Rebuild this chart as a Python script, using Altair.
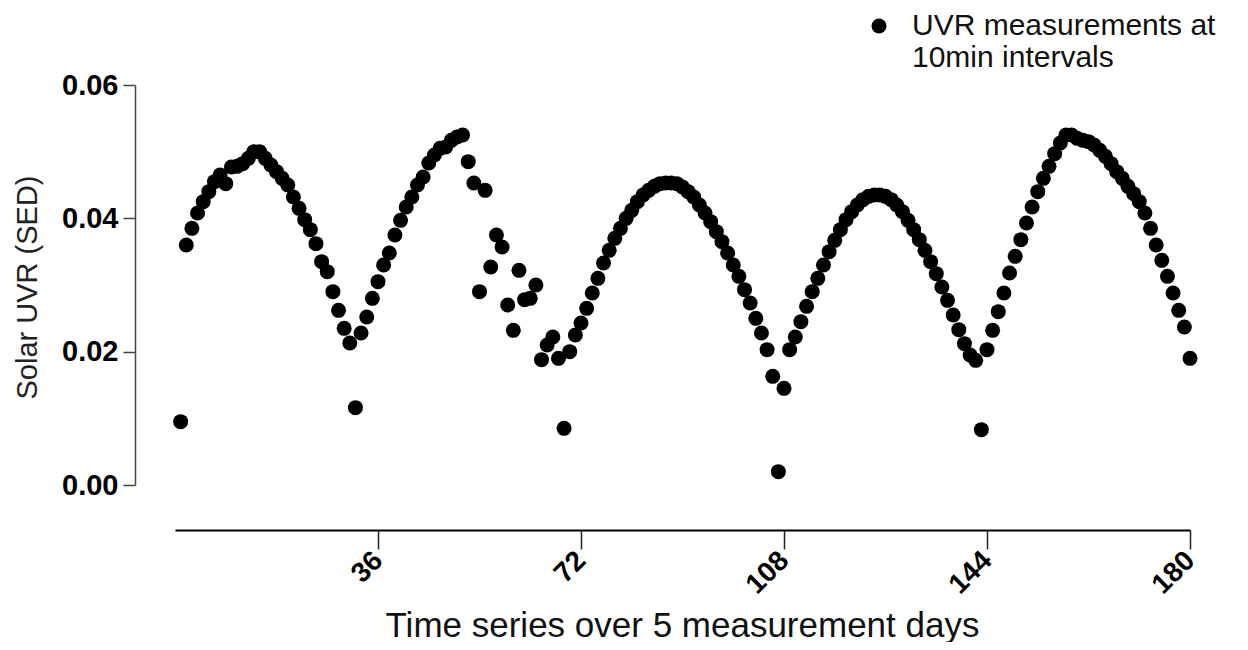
import altair as alt
import pandas as pd

# Solar UVR (SED) readings, 10-minute intervals
day1 = [0.0095, 0.0360, 0.0385, 0.0408, 0.0425, 0.0440, 0.0455, 0.0465, 0.0452, 0.0477,
        0.0478, 0.0482, 0.0490, 0.0500, 0.0500, 0.0490, 0.0480, 0.0470, 0.0460, 0.0450,
        0.0432, 0.0415, 0.0398, 0.0383, 0.0362, 0.0335, 0.0320, 0.0290, 0.0262, 0.0235,
        0.0213, 0.0116]
day2 = [0.0228, 0.0252, 0.0280, 0.0305, 0.0330, 0.0348, 0.0375, 0.0397, 0.0417, 0.0432,
        0.0450, 0.0462, 0.0483, 0.0495, 0.0505, 0.0507, 0.0517, 0.0522, 0.0525, 0.0485,
        0.0453, 0.0290, 0.0442, 0.0327, 0.0375, 0.0357, 0.0270, 0.0232, 0.0322, 0.0278,
        0.0280, 0.0300, 0.0188, 0.0210, 0.0222, 0.0190, 0.0085]
day3 = [0.0200, 0.0225, 0.0243, 0.0265, 0.0288, 0.0310, 0.0333, 0.0352, 0.0370, 0.0385,
        0.0400, 0.0412, 0.0425, 0.0435, 0.0442, 0.0448, 0.0452, 0.0453, 0.0453, 0.0452,
        0.0447, 0.0440, 0.0432, 0.0420, 0.0408, 0.0395, 0.0380, 0.0365, 0.0348, 0.0330,
        0.0313, 0.0293, 0.0273, 0.0250, 0.0228, 0.0203, 0.0163, 0.0020, 0.0145]
day4 = [0.0203, 0.0222, 0.0245, 0.0268, 0.0290, 0.0310, 0.0330, 0.0350, 0.0367, 0.0383,
        0.0398, 0.0410, 0.0420, 0.0428, 0.0433, 0.0435, 0.0435, 0.0433, 0.0428, 0.0420,
        0.0410, 0.0397, 0.0383, 0.0368, 0.0352, 0.0335, 0.0317, 0.0297, 0.0277, 0.0255,
        0.0233, 0.0212, 0.0195, 0.0187, 0.0083]
day5 = [0.0203, 0.0232, 0.0260, 0.0288, 0.0318, 0.0343, 0.0368, 0.0393, 0.0417, 0.0440,
        0.0460, 0.0478, 0.0497, 0.0513, 0.0525, 0.0525, 0.0520, 0.0517, 0.0515, 0.0510,
        0.0502, 0.0493, 0.0482, 0.0470, 0.0460, 0.0448, 0.0437, 0.0425, 0.0408, 0.0385,
        0.0360, 0.0337, 0.0313, 0.0288, 0.0262, 0.0237, 0.0190]

x_ticks = [36, 72, 108, 144, 180]
y_ticks = [0.00, 0.02, 0.04, 0.06]
series_name = "UVR measurements at 10min intervals"

uvr = day1 + day2 + day3 + day4 + day5
df = pd.DataFrame({
    "t": list(range(1, len(uvr) + 1)),
    "uvr": uvr,
    "series": [series_name] * len(uvr),
})

FONT = "Liberation Sans"

chart = alt.Chart(df).mark_point(filled=True, opacity=1, size=225, shape="circle").encode(
    x=alt.X("t:Q",
            scale=alt.Scale(domain=[0, 180], nice=False, zero=False),
            axis=alt.Axis(values=x_ticks, title="Time series over 5 measurement days",
                          offset=45, grid=False, labelAngle=315, labelAlign="right",
                          labelBaseline="middle", labelFontWeight="bold", labelFontSize=28,
                          labelFont=FONT, labelColor="#000", labelPadding=7,
                          tickSize=19, tickWidth=1.5, tickColor="#222",
                          domainColor="#000", domainWidth=2,
                          titleFont=FONT, titleFontSize=35, titleFontWeight="normal",
                          titleColor="#111", titleBaseline="alphabetic",
                          titleX=507, titleY=106, titleAlign="center")),
    y=alt.Y("uvr:Q",
            scale=alt.Scale(domain=[0, 0.06], nice=False),
            axis=alt.Axis(values=y_ticks, format=".2f", title="Solar UVR (SED)",
                          offset=40, grid=False, labelFontWeight="bold", labelFontSize=29,
                          labelFont=FONT, labelColor="#000", labelPadding=5,
                          tickSize=12, tickWidth=1.5, tickColor="#444",
                          domainColor="#444", domainWidth=1.5,
                          titleFont=FONT, titleFontSize=29, titleFontWeight="normal",
                          titleColor="#222", titleAngle=270, titleBaseline="alphabetic",
                          titleAlign="center", titleX=-99, titleY=202)),
    color=alt.Color("series:N", scale=alt.Scale(range=["#000000"]),
                    legend=alt.Legend(title=None, orient="none", legendX=689, legendY=-74,
                                      symbolType="circle", symbolSize=225,
                                      symbolFillColor="#000", symbolStrokeWidth=0,
                                      labelFont=FONT, labelFontSize=30, labelColor="#111",
                                      labelOffset=18, labelLimit=600, padding=0,
                                      labelExpr="['UVR measurements at', '10min intervals']")),
).properties(
    width=1015,
    height=400,
    background="white",
    autosize=alt.AutoSizeParams(type="none"),
    padding={"left": 167, "top": 77, "right": 50, "bottom": 157},
).configure_view(strokeWidth=0)

chart.save("out.html", embed_options={"renderer": "svg", "actions": False})
